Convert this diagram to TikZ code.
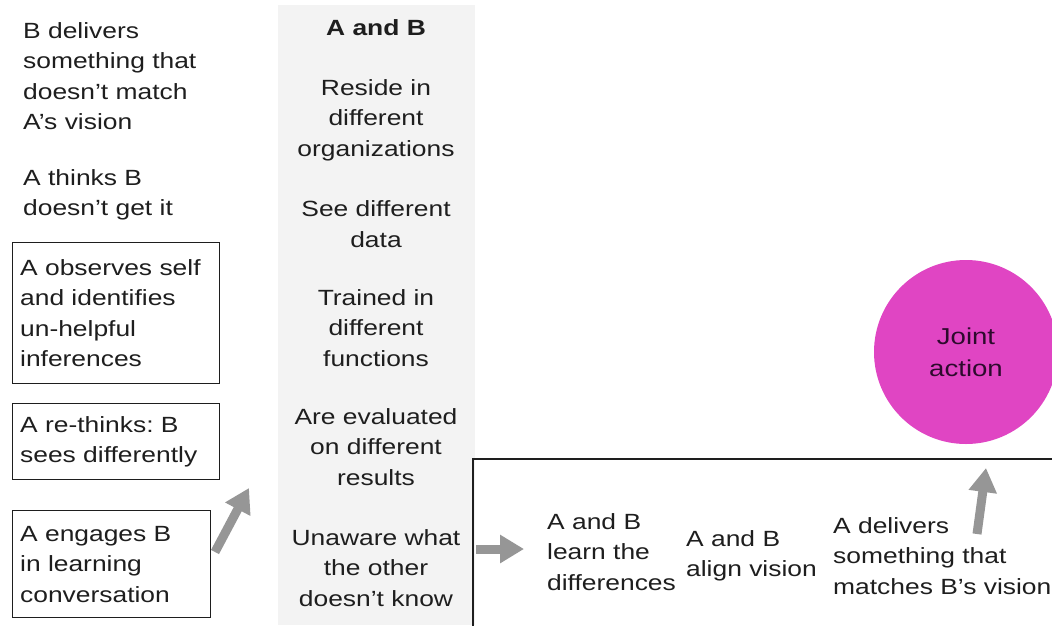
\documentclass[tikz,border=0pt]{standalone}
\usepackage{fontspec}
\setmainfont[FakeStretch=1.2]{Liberation Sans}
\usetikzlibrary{arrows.meta}
\definecolor{panelgray}{RGB}{243,243,243}
\definecolor{arrowgray}{RGB}{150,150,150}
\definecolor{inktext}{RGB}{30,30,30}
\definecolor{jointpink}{RGB}{224,69,195}
\definecolor{jointtext}{RGB}{45,10,45}
\frenchspacing
\begin{document}
\begin{tikzpicture}[x=1pt, y=-1pt,
  txt/.style={font=\fontsize{22}{30.5}\selectfont, text=inktext, inner sep=0pt},
  midtxt/.style={txt, align=center},
  titletxt/.style={midtxt, font=\fontsize{22}{30.5}\selectfont\bfseries},
  lefttxt/.style={txt, align=left, anchor=west},
  framed/.style={txt, draw=inktext, line width=1.3pt, align=left, text width=#1, inner xsep=7.5pt, anchor=north west},
  fatarrow/.style={draw=arrowgray, line width=9pt, -{Triangle[length=24pt,width=27pt]}}]
\useasboundingbox (0,0) rectangle (1052,625);
\clip (0,0) rectangle (1052,625);
\fill[panelgray] (278,5) rectangle (475,625);
\coordinate (boxbl) at (473,630);
\coordinate (boxtr) at (1060,459);
\draw[draw=inktext, line width=1.3pt] (boxbl) |- (boxtr);
% left column
\node[lefttxt] (bdelivers) at (23,76) {B delivers\\something that\\doesn’t match\\A’s vision};
\node[lefttxt] (athinks) at (23,195) {A thinks B\\doesn’t get it};
\node[framed=192, minimum height=141] (observes) at (12,242) {A observes self\\and identifies\\un-helpful\\inferences};
\node[framed=192, minimum height=76] (rethinks) at (12,403) {A re-thinks: B\\sees differently};
\node[framed=183, minimum height=107] (engages) at (12,510) {A engages B\\in learning\\conversation};
% middle column
\node[titletxt] (aandb) at (376,28) {A and B};
\node[midtxt] (reside) at (376,120) {Reside in\\different\\organizations};
\node[midtxt] (seedata) at (376,224) {See different\\data};
\node[midtxt] (trained) at (376,328) {Trained in\\different\\functions};
\node[midtxt] (evaluated) at (376,447) {Are evaluated\\on different\\results};
\node[midtxt] (unaware) at (376,568) {Unaware what\\the other\\doesn’t know};
% bottom row
\node[lefttxt] (learn) at (547,552) {A and B\\learn the\\differences};
\node[lefttxt] (alignv) at (686,556) {A and B\\align vision};
\node[lefttxt] (matches) at (833,556) {A delivers\\something that\\matches B’s vision};
\node[circle, fill=jointpink, minimum size=184pt, inner sep=0pt, align=center,
  font=\fontsize{23}{32}\selectfont, text=jointtext] (joint) at (966,352) {Joint\\action};
% arrows
\coordinate (up1tail) at (215,552);
\coordinate (up1tip) at (249,488);
\coordinate (rttail) at (476,549);
\coordinate (rttip) at (524,549);
\coordinate (up2tail) at (977,534);
\coordinate (up2tip) at (986,468);
\draw[fatarrow] (up1tail) -- (up1tip);
\draw[fatarrow] (rttail) -- (rttip);
\draw[fatarrow] (up2tail) -- (up2tip);
\end{tikzpicture}
\end{document}
